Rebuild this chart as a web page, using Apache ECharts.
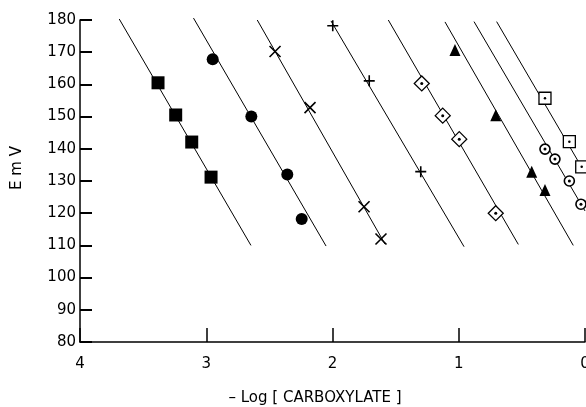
<!DOCTYPE html>
<html><head><meta charset="utf-8">
<script src="https://cdn.jsdelivr.net/npm/echarts@6/dist/echarts.min.js"></script>
<style>html,body{margin:0;padding:0;background:#fff}#c{width:586px;height:407px}</style>
</head><body><div id="c"></div>
<script>
// ---- data: [ -log[carboxylate], E (mV) ] ----
const xTicks = [4, 3, 2, 1, 0];
const yTicks = [80, 90, 100, 110, 120, 130, 140, 150, 160, 170, 180];
const filledSquares = [[3.382,160.5],[3.242,150.5],[3.115,142.1],[2.962,131.2]];
const filledCircles = [[2.949,167.8],[2.643,150.0],[2.358,132.0],[2.244,118.2]];
const crosses       = [[2.455,170.2],[2.178,152.8],[1.750,122.0],[1.616,112.0]];
const pluses        = [[1.998,178.2],[1.709,161.1],[1.301,132.9]];
const diamonds      = [[1.293,160.3],[1.127,150.3],[0.996,143.0],[0.707,120.0]];
const triangles     = [[1.030,170.7],[0.707,150.4],[0.422,132.9],[0.317,127.2]];
const dotCircles    = [[0.317,139.9],[0.238,136.8],[0.124,130.0],[0.032,122.8]];
const openSquares   = [[0.317,155.7],[0.124,142.2],[0.026,134.4]];
// fitted lines (end points)
const line1 = [[3.689,180.3],[2.646,110.0]];
const line2 = [[3.101,180.6],[2.051,109.8]];
const line3 = [[2.596,180.0],[1.584,110.4]];
const line4 = [[2.012,179.7],[0.958,109.6]];
const line5 = [[1.558,180.0],[0.528,110.3]];
const line6 = [[1.109,179.4],[0.093,110.0]];
const line7 = [[0.879,179.5],[0.000,120.7]];
const line8 = [[0.700,179.5],[0.000,132.5]];
const fitLines = [line1,line2,line3,line4,line5,line6,line7,line8];

const FONT = 'DejaVu Sans';
const chart = echarts.init(document.getElementById('c'), null, {renderer:'canvas'});

function lineSeries(pts){
  return {type:'line', data:pts, symbol:'none', silent:true, animation:false, clip:false, z:1,
          lineStyle:{color:'#000', width:1}};
}
function sc(data, symbol, size, style, z){
  return {type:'scatter', data:data, symbol:symbol, symbolSize:size, silent:true,
          animation:false, clip:false, z:z||3, itemStyle:Object.assign({opacity:1}, style)};
}
const solid = {color:'#000'};
const open = {color:'#fff', borderColor:'#000', borderWidth:1.3};
const stroke = {color:'none', borderColor:'#000', borderWidth:1.6};
const dot = {color:'#000'};

const series = fitLines.map(lineSeries).concat([
  sc(filledSquares, 'rect', 13, solid),
  sc(filledCircles, 'circle', 12, solid),
  sc(crosses, 'path://M0,0L10,10M10,0L0,10', 11, stroke),
  sc(pluses, 'path://M5,0L5,10M0,5L10,5', 11, stroke),
  sc(diamonds, 'diamond', 15, open),
  sc(diamonds, 'circle', 3, dot, 4),
  sc(triangles, 'triangle', [11,12], solid),
  sc(dotCircles, 'circle', 10, {color:'#fff', borderColor:'#000', borderWidth:1.6}),
  sc(dotCircles, 'circle', 3, dot, 4),
  sc(openSquares, 'rect', 12, open),
  sc(openSquares, 'circle', 2.5, dot, 4)
]);

chart.setOption({
  animation:false,
  backgroundColor:'#fff',
  grid:{left:80, right:1, top:20, bottom:65, outerBoundsMode:'none', containLabel:false},
  xAxis:{
    type:'value', min:xTicks[xTicks.length-1], max:xTicks[0], interval:1, inverse:true,
    axisLine:{show:true, onZero:false, lineStyle:{color:'#000', width:1.5}},
    axisTick:{show:true, inside:true, length:14, lineStyle:{color:'#000', width:1.5}},
    axisLabel:{color:'#000', fontFamily:FONT, fontSize:15, margin:15},
    splitLine:{show:false},
    name:'– Log [ CARBOXYLATE ]', nameLocation:'middle', nameGap:49,
    nameTextStyle:{color:'#000', fontFamily:FONT, fontSize:15, padding:[0,35,0,0]}
  },
  yAxis:{
    type:'value', position:'left', min:yTicks[0], max:yTicks[yTicks.length-1], interval:10,
    axisLine:{show:true, onZero:false, lineStyle:{color:'#000', width:1.5}},
    axisTick:{show:true, inside:true, length:12, lineStyle:{color:'#000', width:2}},
    axisLabel:{color:'#000', fontFamily:FONT, fontSize:15, margin:4},
    splitLine:{show:false},
    name:'E m V', nameLocation:'middle', nameGap:55, nameRotate:90,
    nameTextStyle:{color:'#000', fontFamily:FONT, fontSize:15, padding:[0,0,0,26]}
  },
  series:series
});
</script></body></html>
